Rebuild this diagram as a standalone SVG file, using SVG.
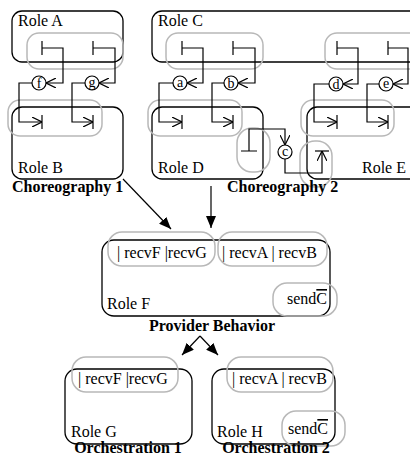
<svg xmlns="http://www.w3.org/2000/svg" width="410" height="457" viewBox="0 0 410 457">
<defs>
<style>
.role{fill:none;stroke:#000;stroke-width:1.3}
.grp{fill:none;stroke:#b8b8b8;stroke-width:1.5}
.ln{fill:none;stroke:#000;stroke-width:1.2}
.t{font-family:"Liberation Serif","Times New Roman",serif;font-size:16px;fill:#000}
.b{font-family:"Liberation Serif","Times New Roman",serif;font-size:16px;font-weight:bold;fill:#000}
.c{font-family:"Liberation Serif","Times New Roman",serif;font-size:14px;fill:#000;text-anchor:middle}
.circ{fill:#fff;stroke:#000;stroke-width:1.2}
</style>
<marker id="open" viewBox="0 0 10 10" refX="10" refY="5" markerWidth="10" markerHeight="10" markerUnits="userSpaceOnUse" orient="auto">
<path d="M0,0 L10,5 L0,10" fill="none" stroke="#000" stroke-width="1.2"/>
</marker>
<marker id="fill" viewBox="0 0 12 10" refX="12" refY="5" markerWidth="12" markerHeight="10" markerUnits="userSpaceOnUse" orient="auto">
<path d="M0,0 L12,5 L0,10 z" fill="#000"/>
</marker>
</defs>

<g id="roleA">
<rect class="role" x="12" y="11" width="111" height="51" rx="10"/>
<text class="t" x="18" y="26">Role A</text>
<rect class="grp" x="27" y="33" width="96" height="36" rx="12"/>
</g>
<g id="roleB">
<rect class="role" x="12" y="107" width="111" height="72" rx="10"/>
<text class="t" x="18" y="173">Role B</text>
<rect class="grp" x="8" y="100" width="94" height="36" rx="12"/>
</g>
<g id="roleC">
<rect class="role" x="152" y="11" width="275" height="51" rx="10"/>
<text class="t" x="158" y="26">Role C</text>
<rect class="grp" x="166" y="33" width="97" height="36" rx="12"/>
<rect class="grp" x="325" y="33" width="100" height="36" rx="12"/>
</g>
<g id="roleD">
<rect class="role" x="152" y="107" width="111" height="72" rx="10"/>
<text class="t" x="158" y="173">Role D</text>
<rect class="grp" x="148" y="100" width="94" height="36" rx="12"/>
<rect class="grp" x="237" y="128" width="33" height="44" rx="15"/>
</g>
<g id="roleE">
<rect class="role" x="307" y="107" width="120" height="72" rx="10"/>
<text class="t" x="362" y="173">Role E</text>
<rect class="grp" x="301" y="100" width="93" height="36" rx="12"/>
<rect class="grp" x="300" y="141" width="32" height="46" rx="15"/>
</g>
<text class="b" x="12" y="192">Choreography 1</text>
<text class="b" x="227" y="192">Choreography 2</text>

<g id="messages">
<!-- f -->
<path class="ln" d="M42,41 V55 M42,48 H63 V83 H46" marker-end="url(#open)"/>
<path class="ln" d="M32,83 H19 V122 H42" marker-end="url(#open)"/>
<path class="ln" d="M42,115 V129"/>
<!-- g -->
<path class="ln" d="M93,41 V55 M93,48 H115 V83 H99" marker-end="url(#open)"/>
<path class="ln" d="M85,83 H72 V122 H93" marker-end="url(#open)"/>
<path class="ln" d="M93,115 V129"/>
<!-- a -->
<path class="ln" d="M182,41 V55 M182,48 H203 V83 H187" marker-end="url(#open)"/>
<path class="ln" d="M173,83 H159 V122 H182" marker-end="url(#open)"/>
<path class="ln" d="M182,115 V129"/>
<!-- b -->
<path class="ln" d="M233,41 V55 M233,48 H255 V83 H238" marker-end="url(#open)"/>
<path class="ln" d="M224,83 H212 V122 H233" marker-end="url(#open)"/>
<path class="ln" d="M233,115 V129"/>
<!-- d -->
<path class="ln" d="M337,41 V55 M337,48 H358 V84 H343" marker-end="url(#open)"/>
<path class="ln" d="M329,84 H314 V122 H337" marker-end="url(#open)"/>
<path class="ln" d="M337,115 V129"/>
<!-- e -->
<path class="ln" d="M388,41 V55 M388,48 H408 V84 H393" marker-end="url(#open)"/>
<path class="ln" d="M379,84 H367 V122 H388" marker-end="url(#open)"/>
<path class="ln" d="M388,115 V129"/>
<!-- c -->
<path class="ln" d="M241,151 H257 M249,151 V129 H285 V145" marker-end="url(#open)"/>
<path class="ln" d="M285,159 V173 H322 V151" marker-end="url(#open)"/>
<path class="ln" d="M315,151 H329"/>
</g>
<g id="circles">
<circle class="circ" cx="39" cy="83" r="7"/><text class="c" x="39" y="88">f</text>
<circle class="circ" cx="92" cy="83" r="7"/><text class="c" x="92" y="87">g</text>
<circle class="circ" cx="180" cy="83" r="7"/><text class="c" x="180" y="87">a</text>
<circle class="circ" cx="231" cy="83" r="7"/><text class="c" x="231" y="88">b</text>
<circle class="circ" cx="336" cy="84" r="7"/><text class="c" x="336" y="89">d</text>
<circle class="circ" cx="386" cy="84" r="7"/><text class="c" x="386" y="88">e</text>
<circle class="circ" cx="285" cy="152" r="7"/><text class="c" x="285" y="156">c</text>
</g>

<g id="connectors">
<line class="ln" x1="123" y1="179" x2="171" y2="229" marker-end="url(#fill)"/>
<line class="ln" x1="211" y1="186" x2="211" y2="228" marker-end="url(#fill)"/>
<line class="ln" x1="200" y1="336" x2="182" y2="355" marker-end="url(#fill)"/>
<line class="ln" x1="200" y1="336" x2="218" y2="355" marker-end="url(#fill)"/>
</g>

<g id="roleF">
<rect class="role" x="102" y="240" width="228" height="76" rx="12"/>
<rect class="grp" x="108" y="232" width="107" height="34" rx="14"/>
<rect class="grp" x="218" y="232" width="109" height="34" rx="14"/>
<rect class="grp" x="273" y="283" width="64" height="33" rx="14"/>
<text class="t" x="117" y="258">| recvF |recvG</text>
<text class="t" x="222" y="258">| recvA | recvB</text>
<text class="t" x="287" y="304">send<tspan text-decoration="overline">C</tspan></text>
<text class="t" x="107" y="309">Role F</text>
</g>
<text class="b" x="212" y="331" text-anchor="middle">Provider Behavior</text>

<g id="roleG">
<rect class="role" x="65" y="369" width="127" height="75" rx="12"/>
<rect class="grp" x="72" y="357" width="106" height="35" rx="14"/>
<text class="t" x="78" y="384">| recvF |recvG</text>
<text class="t" x="71" y="437">Role G</text>
</g>
<g id="roleH">
<rect class="role" x="212" y="369" width="123" height="75" rx="12"/>
<rect class="grp" x="227" y="357" width="106" height="35" rx="14"/>
<rect class="grp" x="282" y="411" width="63" height="35" rx="14"/>
<text class="t" x="232" y="384">| recvA | recvB</text>
<text class="t" x="288" y="434">send<tspan text-decoration="overline">C</tspan></text>
<text class="t" x="217" y="437">Role H</text>
</g>
<text class="b" x="128" y="453" text-anchor="middle">Orchestration 1</text>
<text class="b" x="276" y="453" text-anchor="middle">Orchestration 2</text>
</svg>
